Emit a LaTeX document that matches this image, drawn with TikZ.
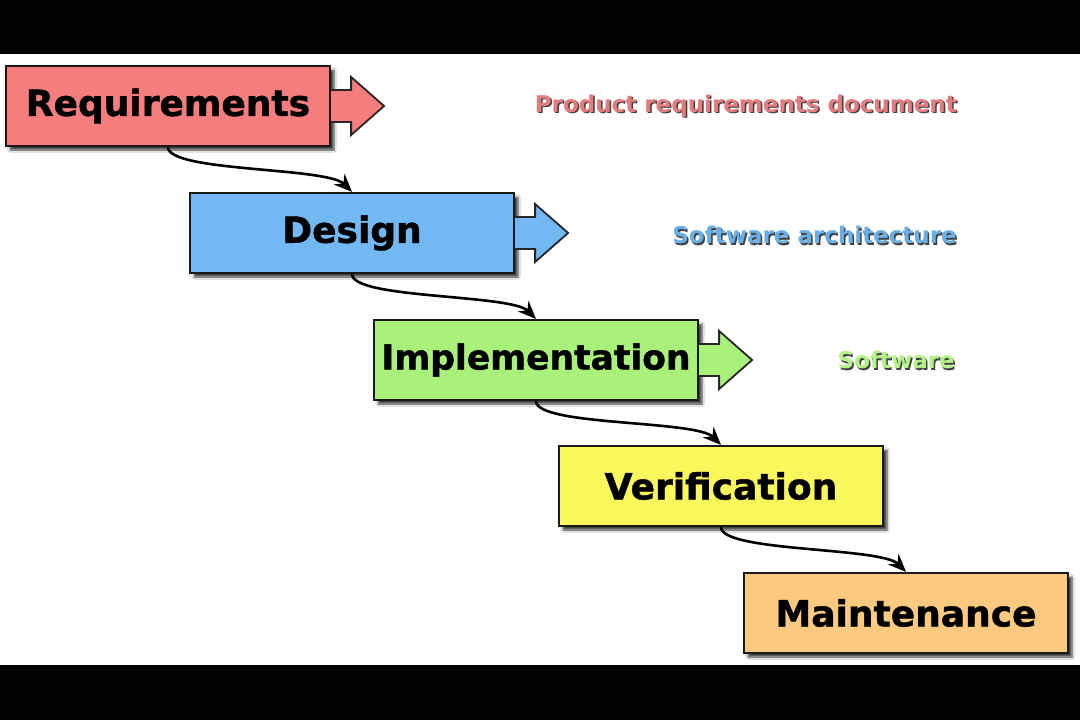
\documentclass[tikz,border=0pt]{standalone}
\usepackage{fontspec}
\setmainfont{DejaVu Sans}
\newfontfamily\heavyfont{DejaVu Sans}[FakeBold=1.2]
\usetikzlibrary{arrows.meta,shadows,shadows.blur}
\definecolor{reqc}{HTML}{F67D7D}
\definecolor{desc}{HTML}{72B8F2}
\definecolor{impc}{HTML}{A8F27C}
\definecolor{verc}{HTML}{F8F85C}
\definecolor{mntc}{HTML}{FBC980}
\definecolor{reqt}{HTML}{E27C7E}
\definecolor{dest}{HTML}{6AAEE6}
\definecolor{impt}{HTML}{B2F286}
\tikzset{
  phase/.style={draw=black!90, line width=2.2pt, minimum width=324pt, minimum height=80pt,
    inner sep=0pt, font=\heavyfont\bfseries\fontsize{36}{40}\selectfont,
    blur shadow={shadow xshift=4pt, shadow yshift=-4pt, shadow blur steps=6, shadow opacity=75}},
  outarrow/.style={draw=black!85, line width=1.8pt, line join=miter},
  flow/.style={line width=2.6pt, -{Stealth[length=18pt,width=15pt]}},
  product/.style={font=\bfseries\fontsize{23}{26}\selectfont, anchor=east, inner sep=0pt}
}
\begin{document}
\begin{tikzpicture}[x=1pt,y=-1pt]
\useasboundingbox (0,0) rectangle (1080,720);
\fill[black] (0,0) rectangle (1080,720);
\fill[white] (0,54) rectangle (1080,665);
% boxes
\node[phase, fill=reqc] (r) at (168,106) {Requirements};
\node[phase, fill=desc] (d) at (352,233) {Design};
\node[phase, fill=impc, font=\heavyfont\bfseries\fontsize{34.5}{40}\selectfont] (i) at (536,360) {Implementation};
\node[phase, fill=verc] (v) at (721,486) {Verification};
\node[phase, fill=mntc] (m) at (906,613) {Maintenance};
% output arrows
\draw[outarrow, fill=reqc, shift={(r.east)}] (0,-16) -- (20,-16) -- (20,-29) -- (53,0) -- (20,29) -- (20,16) -- (0,16);
\draw[outarrow, fill=desc, shift={(d.east)}] (0,-16) -- (20,-16) -- (20,-29) -- (53,0) -- (20,29) -- (20,16) -- (0,16);
\draw[outarrow, fill=impc, shift={(i.east)}] (0,-16) -- (20,-16) -- (20,-29) -- (53,0) -- (20,29) -- (20,16) -- (0,16);
% products (embossed)
\node[product, text=black!75] (pr0) at (958.5,107.5) {Product requirements document};
\node[product, text=reqt] (pr) at (957,106) {Product requirements document};
\node[product, text=black!75] (pd0) at (958.5,236.5) {Software architecture};
\node[product, text=dest] (pd) at (957,235) {Software architecture};
\node[product, text=black!75] (pi0) at (956.5,361.5) {Software};
\node[product, text=impt] (pi) at (955,360) {Software};
% flow connectors
\draw[flow] (r.south) .. controls +(0,25) and +(-25,-25) .. (d.north);
\draw[flow] (d.south) .. controls +(0,25) and +(-25,-25) .. (i.north);
\draw[flow] (i.south) .. controls +(0,25) and +(-25,-25) .. (v.north);
\draw[flow] (v.south) .. controls +(0,25) and +(-25,-25) .. (m.north);
\end{tikzpicture}
\end{document}
